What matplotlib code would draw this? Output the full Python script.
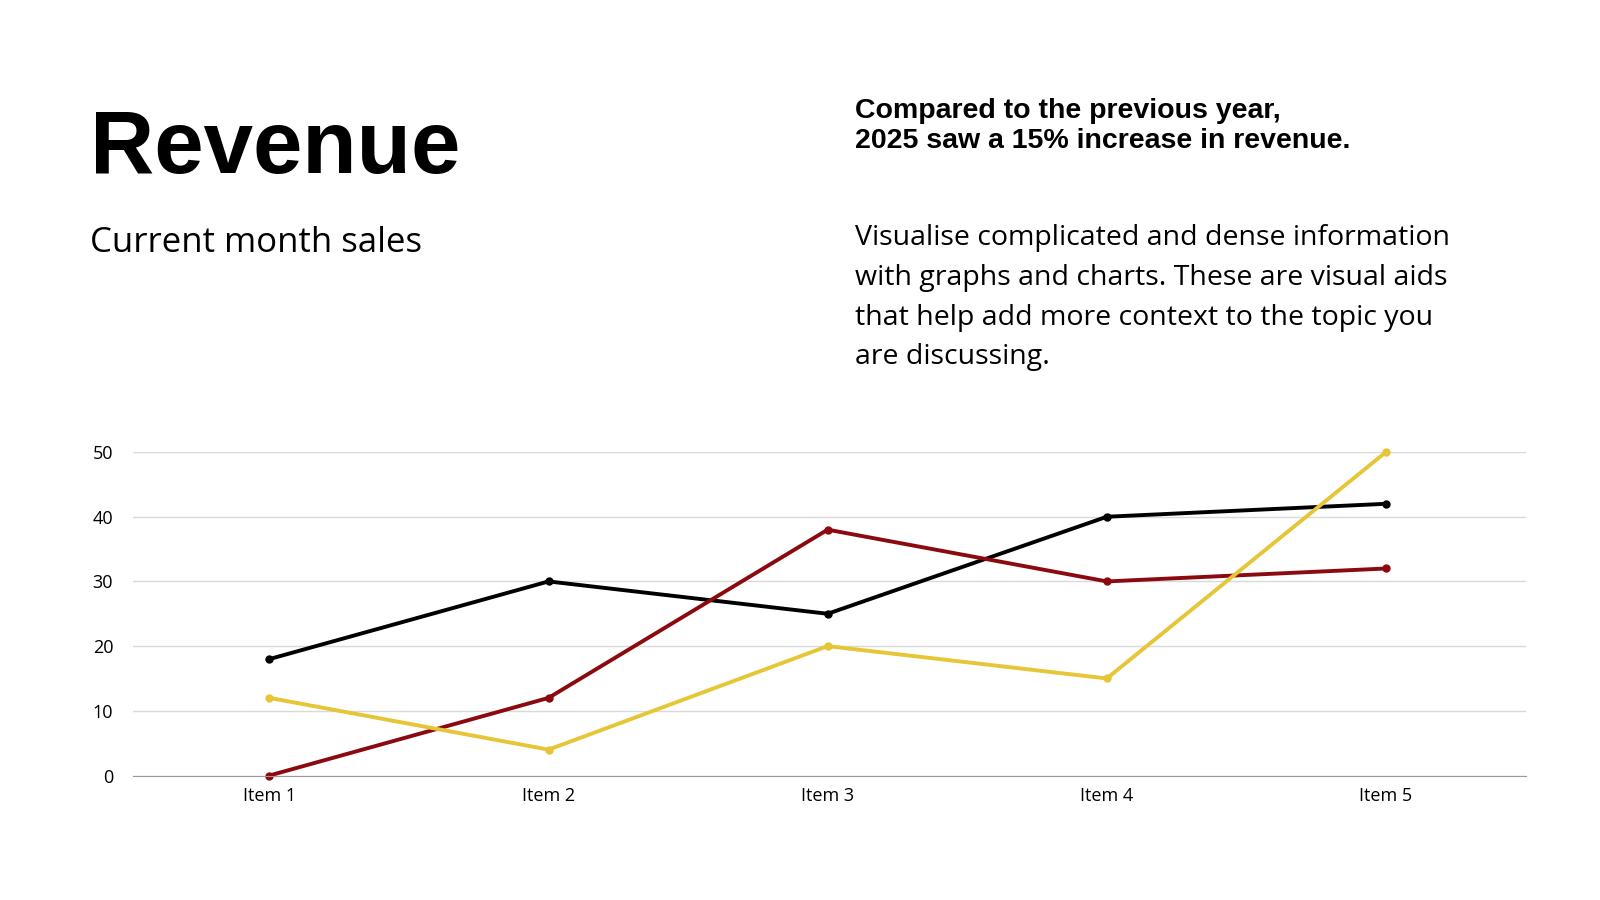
import matplotlib
matplotlib.use('Agg')
import matplotlib.pyplot as plt

items = ['Item 1', 'Item 2', 'Item 3', 'Item 4', 'Item 5']
series_black = [18, 30, 25, 40, 42]
series_red = [0, 12, 38, 30, 32]
series_yellow = [12, 4, 20, 15, 50]
yticks = [0, 10, 20, 30, 40, 50]

W, H = 1568, 882
fig = plt.figure(figsize=(16, 9), dpi=100)

fig.text(88 / W, 1 - 170 / H, 'Revenue', fontsize=64, fontweight='bold',
         family='Liberation Sans', va='baseline')
fig.text(88 / W, 1 - 247 / H, 'Current month sales', fontsize=25,
         family='Open Sans', va='baseline')
fig.text(838 / W, 1 - 96 / H,
         'Compared to the previous year,\n2025 saw a 15% increase in revenue.',
         fontsize=20.5, fontweight='bold', linespacing=1.2,
         family='Liberation Sans', va='top')
fig.text(838 / W, 1 - 220 / H,
         'Visualise complicated and dense information\n'
         'with graphs and charts. These are visual aids\n'
         'that help add more context to the topic you\n'
         'are discussing.',
         fontsize=20.5, family='Open Sans', linespacing=1.55, va='top')

ax = fig.add_axes([130 / W, 1 - 760 / H, (1495 - 130) / W, (760 - 443) / H])
x = range(len(items))
for vals, col in [(series_black, '#000000'), (series_red, '#8b0a0f'),
                  (series_yellow, '#e6c637')]:
    ax.plot(x, vals, color=col, linewidth=2.8, marker='o', markersize=5,
            clip_on=False)

ax.set_xlim(-0.49, 4.5)
ax.set_ylim(0, 50)
ax.set_yticks(yticks)
ax.set_xticks(list(x))
ax.set_xticklabels(items)
ax.grid(True, axis='y', color='#d9d9d9', linewidth=1)
ax.set_axisbelow(True)
for s in ['top', 'right', 'left']:
    ax.spines[s].set_visible(False)
ax.spines['bottom'].set_color('#999999')
ax.tick_params(length=0, labelsize=13, pad=8)
for lab in ax.get_xticklabels() + ax.get_yticklabels():
    lab.set_family('Open Sans')
ax.tick_params(axis='y', pad=14)

fig.savefig('out.png', dpi=100)
